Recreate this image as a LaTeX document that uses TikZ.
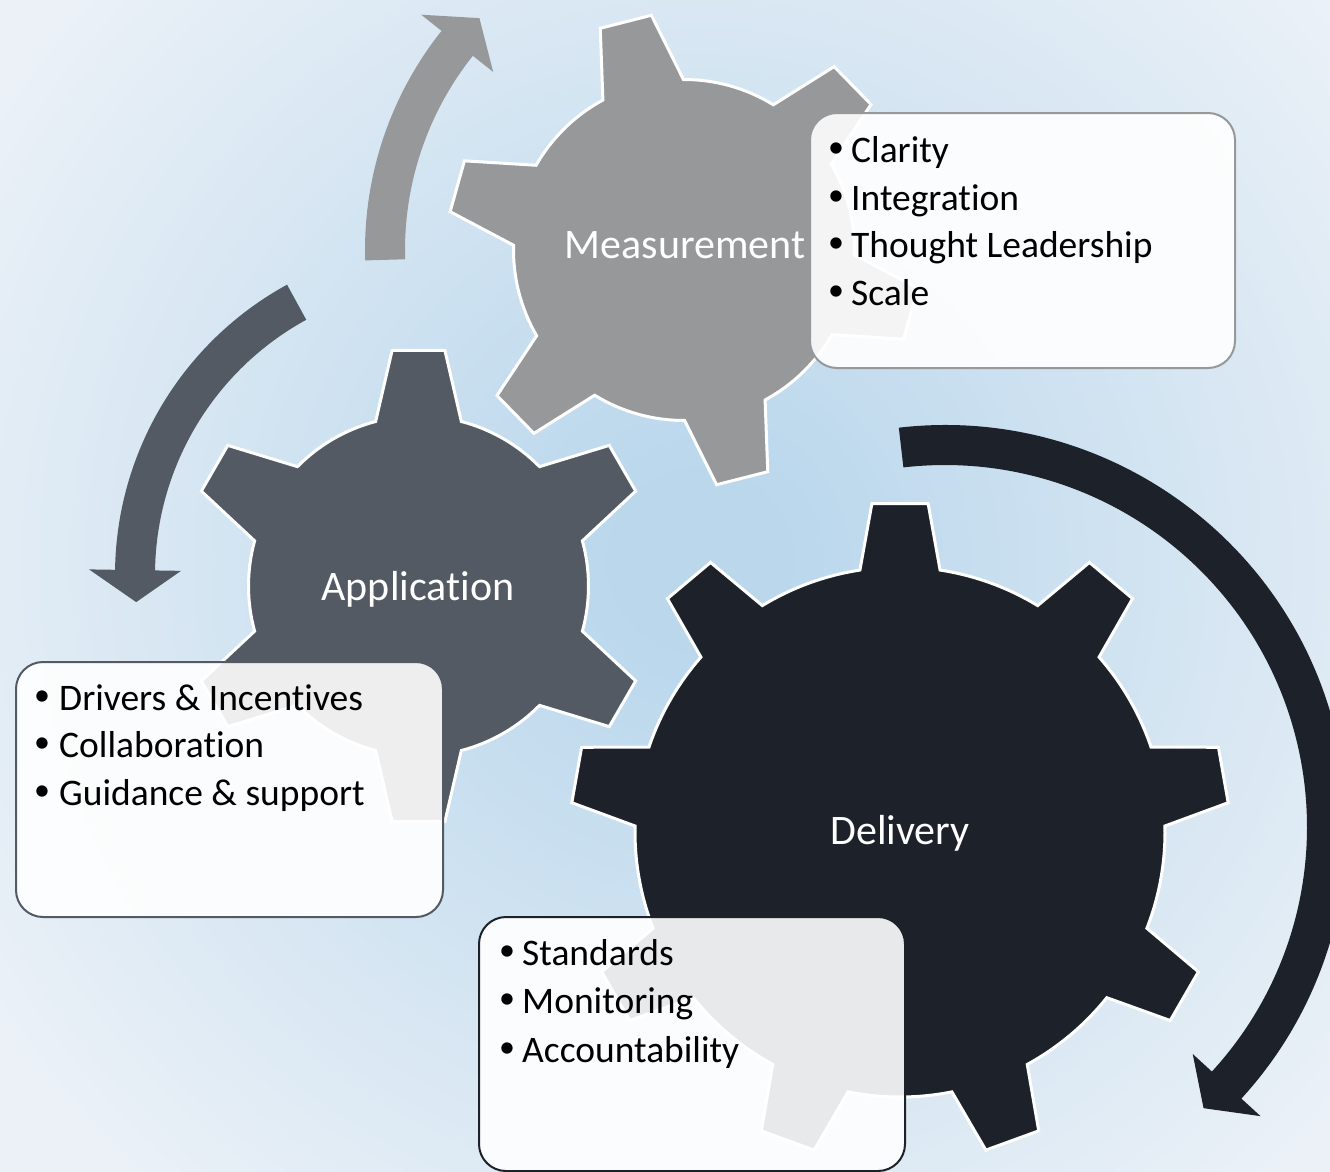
\documentclass[tikz,border=0pt]{standalone}
\usepackage{fontspec}
\setmainfont{Carlito}[Ligatures={NoCommon,NoRequired,NoContextual}]
\definecolor{gM}{RGB}{151,152,154}
\definecolor{gA}{RGB}{83,90,99}
\definecolor{gD}{RGB}{29,33,41}
\definecolor{bgin}{RGB}{186,215,236}
\definecolor{bgout}{RGB}{235,241,247}
\pgfdeclareradialshading{bgrad}{\pgfpoint{0bp}{0bp}}{color(0bp)=(bgin); color(2bp)=(bgin); color(21bp)=(bgout); color(25bp)=(bgout)}
\tikzset{
  gearshape/.style={line width=3pt, draw=white, line join=miter},
  infobox/.style={rounded corners=27pt, fill=white, fill opacity=0.9, line width=2pt, anchor=north west, inner sep=0pt},
  boxtext/.style={font=\fontsize{37.5}{45}\selectfont, anchor=base west, inner sep=0pt, text=black},
  bul/.style={font=\fontsize{32}{40}\selectfont, inner sep=0pt, text=black},
  glabel/.style={font=\fontsize{42}{50}\selectfont, text=white, anchor=base, inner sep=0pt},
}
% color, cx, cy, n, first tooth angle, body radius, outer radius, base half-angle, top half-angle
\newcommand\drawgear[9]{%
  \pgfmathsetmacro\gstep{360/#4}%
  \begin{scope}[shift={(#2,#3)}]
    \filldraw[gearshape, fill=#1] ({#5-#8}:#6)
      \foreach \k in {1,...,#4}{
        -- ({#5+(\k-1)*\gstep-#9}:#7) -- ({#5+(\k-1)*\gstep+#9}:#7)
        -- ({#5+(\k-1)*\gstep+#8}:#6)
        arc[start angle={#5+(\k-1)*\gstep+#8}, end angle={#5+\k*\gstep-#8}, radius=#6]
      } -- cycle;
  \end{scope}}
% color, cx, cy, R, start angle, head base angle, tip angle
\newcommand\drawcircarrow[7]{%
  \begin{scope}[shift={(#2,#3)}]
    \fill[#1] ({#5}:{#4+20}) arc[start angle=#5, end angle=#6, radius=#4+20]
      -- ({#6}:{#4+46}) -- ({#7}:{#4}) -- ({#6}:{#4-46}) -- ({#6}:{#4-20})
      arc[start angle=#6, end angle=#5, radius=#4-20] -- cycle;
  \end{scope}}
\begin{document}
\begin{tikzpicture}[x=1pt, y=-1pt]
\useasboundingbox (0,0) rectangle (1330,1172);
\clip (0,0) rectangle (1330,1172);
\shade[shading=bgrad] (-300,-440) rectangle (1700,1560);

% circular arrows
\drawcircarrow{gM}{717}{250}{332}{178.3}{218.5}{224.3}
\drawcircarrow{gA}{446}{575}{311}{241.3}{180.9}{175}
\drawcircarrow{gD}{945}{827}{382}{263.4}{402.5}{407.4}

% gears
\drawgear{gM}{684}{250}{6}{-104.3}{170.5}{237}{14.1}{6.4}
\drawgear{gA}{418.5}{586}{6}{-90}{170}{237}{14.6}{6.4}
\drawgear{gD}{900}{832}{9}{-90}{265}{329.5}{8.7}{4.9}

% gear labels
\node[glabel] (labM) at (685,258) {Measurement};
\node[glabel] (labA) at (418,600) {Application};
\node[glabel] (labD) at (900,844) {Delivery};

% text boxes
\node[infobox, draw=gM, minimum width=425pt, minimum height=255pt] (boxM) at (809,112) {};
\node[infobox, draw=gA, minimum width=427pt, minimum height=255pt] (boxA) at (15,661) {};
\node[infobox, draw=gD, minimum width=426pt, minimum height=254pt] (boxD) at (478,916) {};

% box texts
\node[bul] (bM1) at (836,150) {•};
\node[bul] (bM2) at (836,198) {•};
\node[bul] (bM3) at (836,245.5) {•};
\node[bul] (bM4) at (836,293) {•};
\node[boxtext] (tM1) at (851,162) {Clarity};
\node[boxtext] (tM2) at (851,210) {Integration};
\node[boxtext] (tM3) at (851,257.5) {Thought Leadership};
\node[boxtext] (tM4) at (851,305) {Scale};

\node[bul] (bA1) at (42,698) {•};
\node[bul] (bA2) at (42,745.5) {•};
\node[bul] (bA3) at (42,793) {•};
\node[boxtext] (tA1) at (59,710) {Drivers \& Incentives};
\node[boxtext] (tA2) at (59,757.5) {Collaboration};
\node[boxtext] (tA3) at (59,805) {Guidance \& support};

\node[bul] (bD1) at (507,953) {•};
\node[bul] (bD2) at (507,1001.5) {•};
\node[bul] (bD3) at (507,1050) {•};
\node[boxtext] (tD1) at (522,965) {Standards};
\node[boxtext] (tD2) at (522,1013.5) {Monitoring};
\node[boxtext] (tD3) at (522,1062) {Accountability};
\end{tikzpicture}
\end{document}
